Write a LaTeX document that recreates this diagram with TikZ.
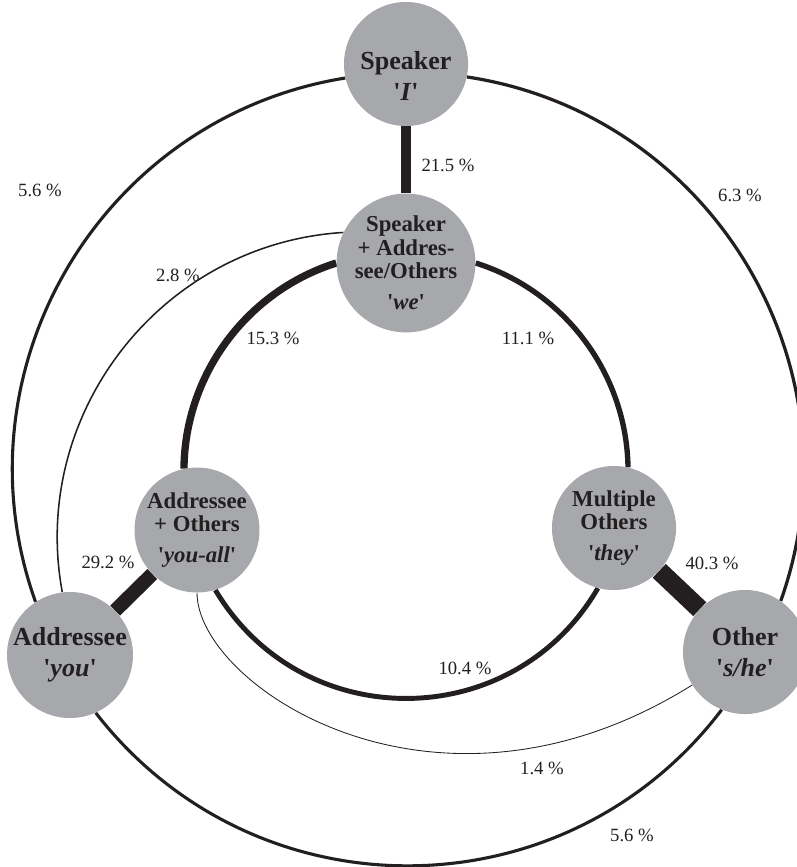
\documentclass[tikz,border=0pt]{standalone}
\usepackage{fontspec}
\setmainfont{Liberation Serif}
\usetikzlibrary{backgrounds}
\definecolor{ink}{HTML}{231F20}
\definecolor{disc}{HTML}{A7A8AC}
\newcommand{\pron}[1]{\textquotesingle\textit{#1}\textquotesingle}
\tikzset{
  big words/.style={font=\fontsize{18.5}{22}\selectfont\bfseries, align=center, text=ink},
  small words/.style={font=\fontsize{16.2}{16.4}\selectfont\bfseries, align=center, text=ink},
  person/.style={circle, fill=disc, inner sep=0pt, minimum size=3.1cm},
  outer person/.style={person, big words},
  inner person/.style={person, small words},
  share/.style={font=\fontsize{13.3}{15}\selectfont, text=ink, inner sep=0pt},
  tie/.style={draw=ink, line width=#1},
}

\begin{document}
\begin{tikzpicture}[x=0.025cm, y=0.025cm]
  \useasboundingbox (0,0) rectangle (796,-867);
  % persons
  \node[outer person, label={[big words, yshift=-0.3cm]center:{Speaker\\\pron{I}}}] (spk) at (406,-64) {};
  \node[inner person] (we)   at (406,-263) {Speaker\\+ Addres-\\see/Others\\[6pt]\pron{we}};
  \node[inner person] (yall) at (197,-530) {Addressee\\+ Others\\[6pt]\pron{you-all}};
  \node[inner person] (they) at (614,-528) {Multiple\\Others\\[6pt]\pron{they}};
  \node[outer person] (you)  at (70,-655)  {Addressee\\\pron{you}};
  \node[outer person] (she)  at (745,-652) {Other\\\pron{s/he}};

  % shares
  \node[share] (p215) at (448,-165) {21.5 \%};
  \node[share] (p56a) at (40,-190)  {5.6 \%};
  \node[share] (p63)  at (740,-195) {6.3 \%};
  \node[share] (p28)  at (178,-275) {2.8 \%};
  \node[share] (p153) at (273,-338) {15.3 \%};
  \node[share] (p111) at (528,-338) {11.1 \%};
  \node[share] (p292) at (108,-562) {29.2 \%};
  \node[share] (p403) at (712,-563) {40.3 \%};
  \node[share] (p104) at (465,-668) {10.4 \%};
  \node[share] (p14)  at (542,-768) {1.4 \%};
  \node[share] (p56b) at (632,-835) {5.6 \%};

  \begin{scope}[on background layer]
    \draw[tie=7.3pt]  (spk) -- (we);
    \draw[tie=10pt]   (yall) -- (you);
    \draw[tie=13.5pt] (they) -- (she);
    % outer ring
    \draw[tie=2.2pt] (spk.193) to[bend right=50.3, looseness=1.04] (you.123);
    \draw[tie=2.3pt] (spk.348) to[bend left=50.5, looseness=1.04] (she.55);
    \draw[tie=2.2pt] (you.294) to[bend right=52.5, looseness=1.06] (she.248);
    % inner ring
    \draw[tie=5.2pt] (we.180)   to[bend right=36, looseness=0.94] (yall.102);
    \draw[tie=3.8pt] (we.0)     to[bend left=35.8, looseness=0.94] (they.77);
    \draw[tie=3.5pt] (yall.287) to[bend right=59.5, looseness=1.13] (they.255);
    % thin links
    \draw[tie=1.1pt] (we.154) to[bend right=48.5, looseness=1.02] (you.97);
    \draw[tie=0.6pt] (yall.270) to[out=-90, in=212, out distance=2.3cm, in distance=7.6cm] (she.212);
  \end{scope}
\end{tikzpicture}
\end{document}
